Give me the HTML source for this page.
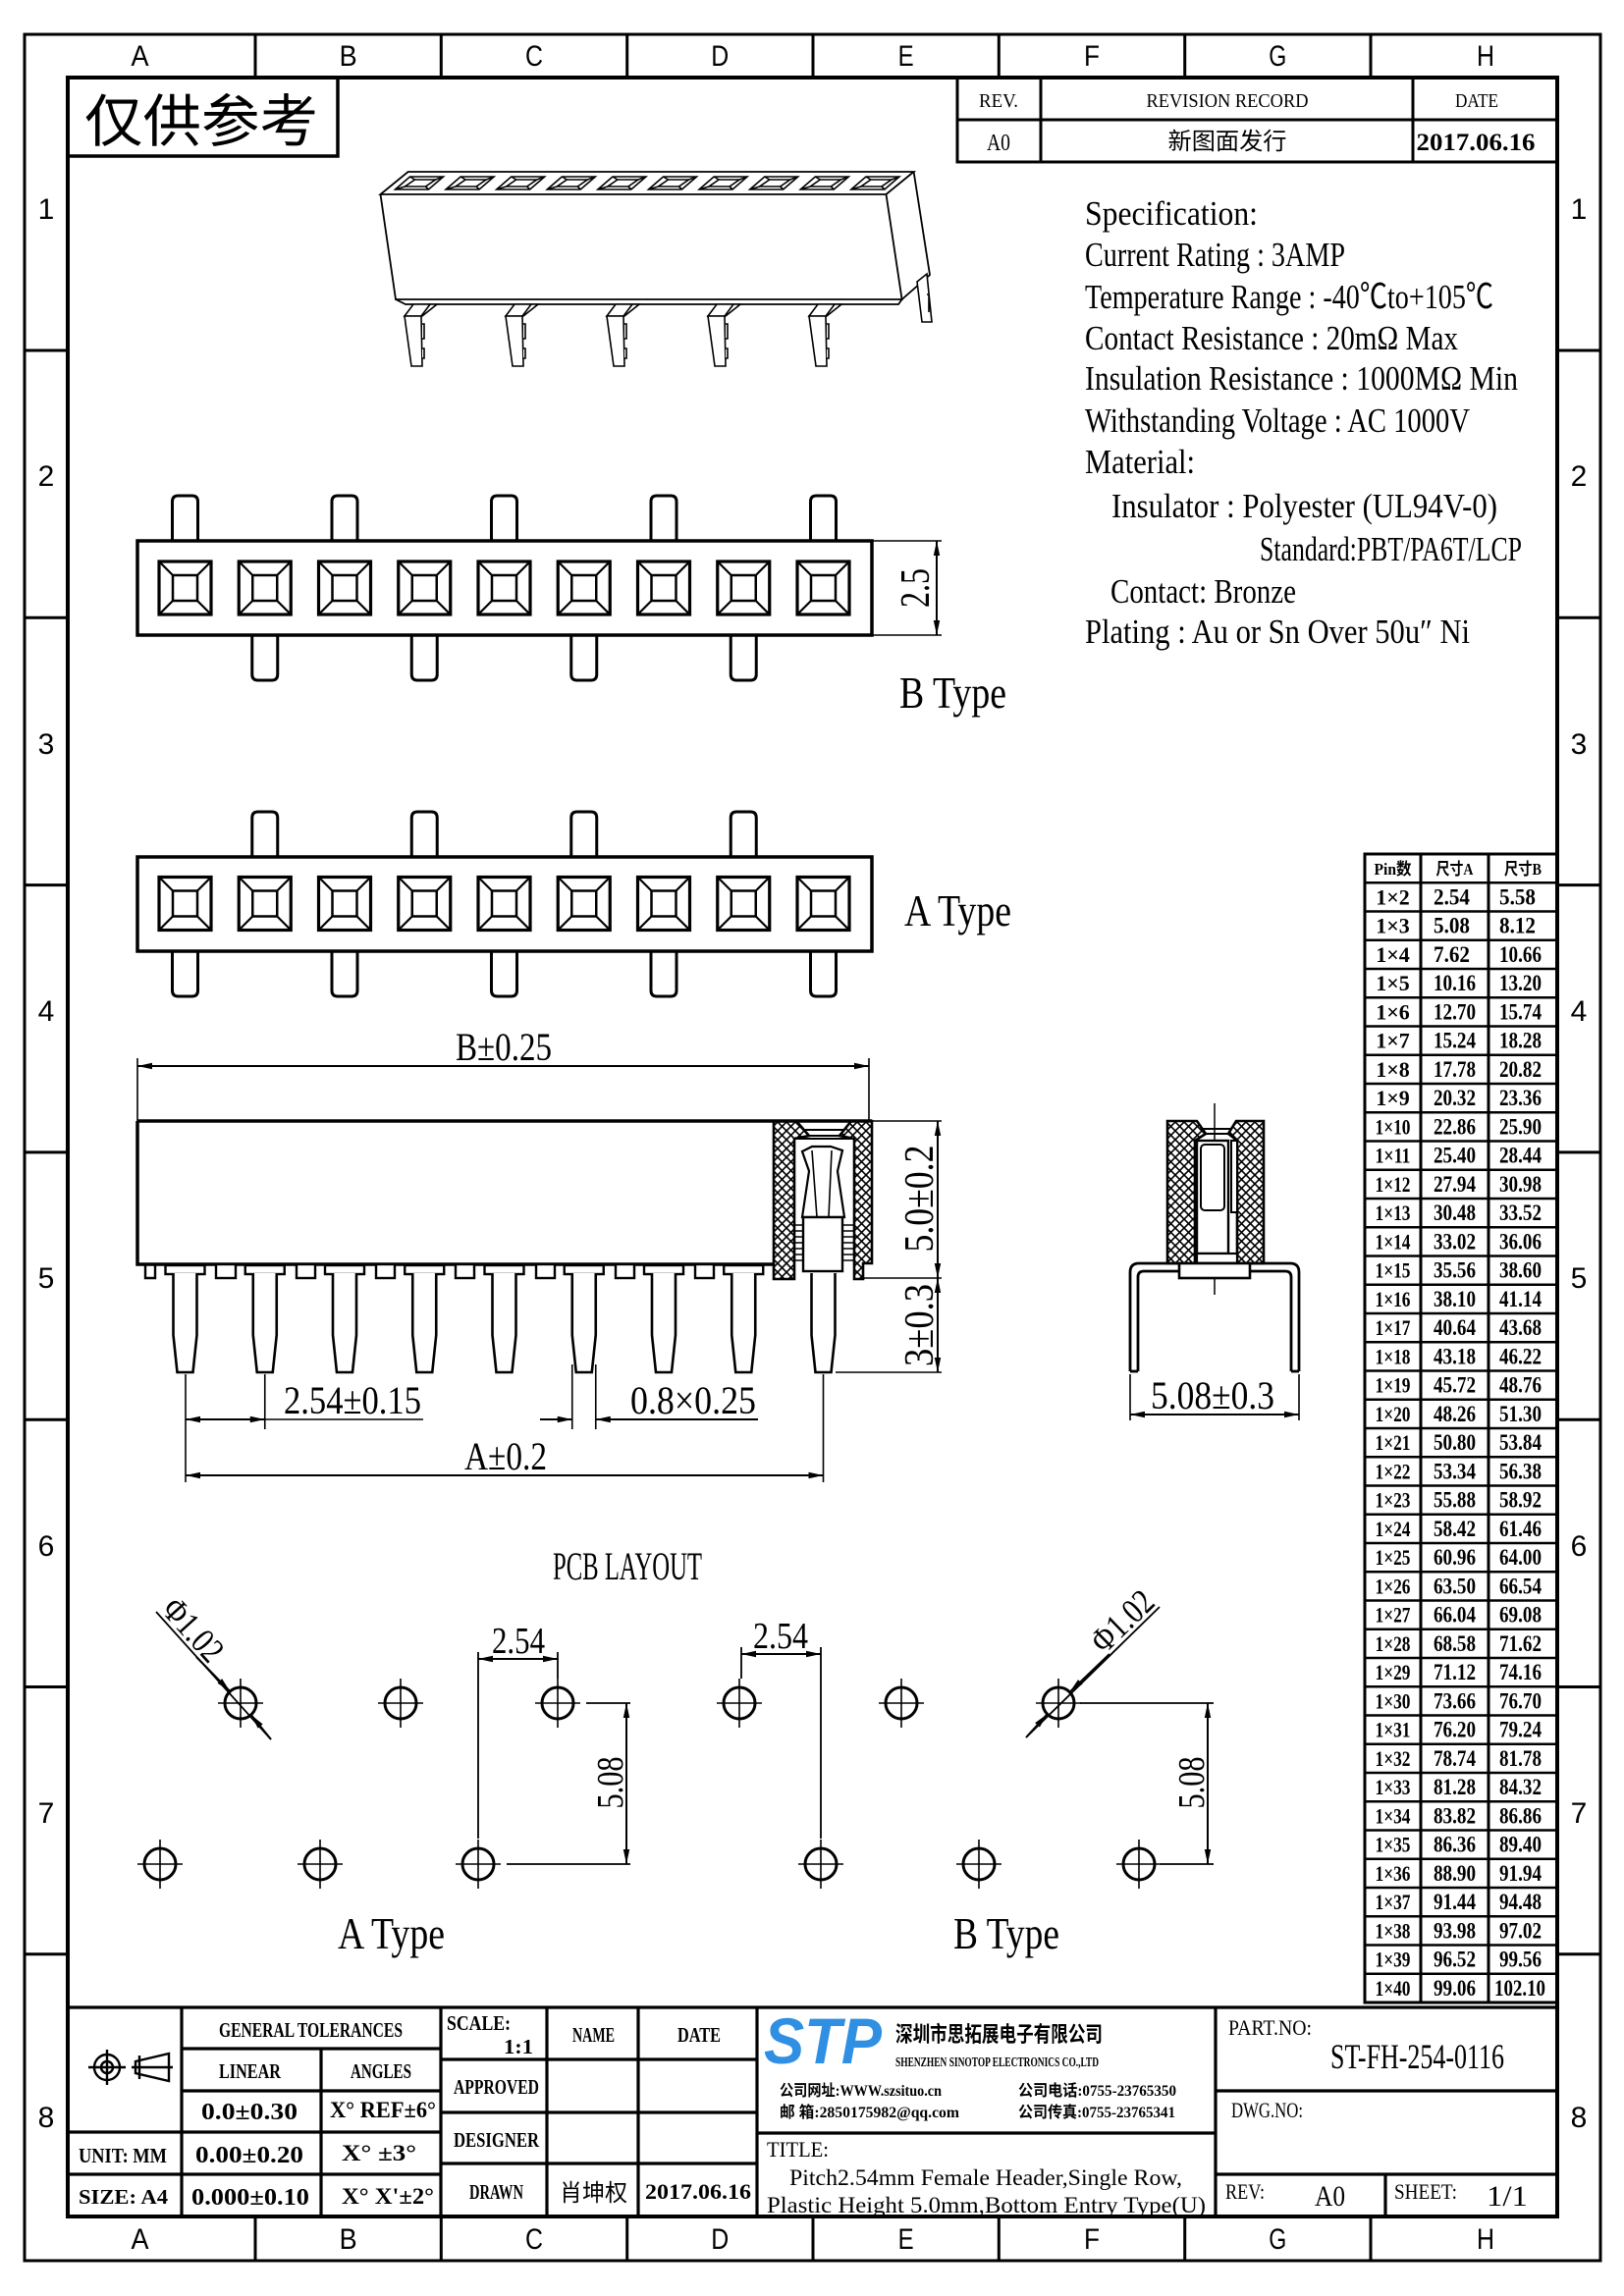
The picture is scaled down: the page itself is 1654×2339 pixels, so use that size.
<!DOCTYPE html>
<html><head><meta charset="utf-8"><style>
html,body{margin:0;padding:0;background:#fff}
svg{display:block}
.t{font-family:"Liberation Serif","Noto Sans CJK SC",serif;fill:#000}
.s{font-family:"Liberation Sans","Noto Sans CJK SC",sans-serif;fill:#000}
.c{font-family:"Liberation Serif","Noto Sans CJK SC",sans-serif;fill:#000}
</style></head><body>
<svg width="1654" height="2339" viewBox="0 0 1654 2339" xmlns="http://www.w3.org/2000/svg">
<defs>
<marker id="ar" viewBox="-16 -5 18 10" refX="0" refY="0" markerWidth="18" markerHeight="10" markerUnits="userSpaceOnUse" orient="auto-start-reverse"><path d="M0,0 L-15,-3.2 L-15,3.2 z" fill="#000"/></marker>
<pattern id="xh" width="9" height="9" patternUnits="userSpaceOnUse"><path d="M0,0 L9,9 M9,0 L0,9" stroke="#000" stroke-width="1.6"/></pattern>
<g id="sq" fill="none" stroke="#000"><rect x="-26.5" y="-27" width="53" height="54" stroke-width="3.2"/><rect x="-12.5" y="-13" width="25" height="26" stroke-width="2.5"/><path d="M-26.5,-27L-12.5,-13M26.5,-27L12.5,-13M-26.5,27L-12.5,13M26.5,27L12.5,13" stroke-width="2.2"/></g>
<path id="pu" d="M-13,0 V-40 Q-13,-46 -7,-46 H7 Q13,-46 13,-40 V0" fill="none" stroke="#000" stroke-width="3"/>
<path id="pd" d="M-13,0 V40 Q-13,46 -7,46 H7 Q13,46 13,40 V0" fill="none" stroke="#000" stroke-width="3"/>
<path id="sp" d="M-12,0 V63 L-8,101 H8 L12,63 V0" fill="#fff" stroke="#000" stroke-width="2.6"/>
<g id="hole" fill="none" stroke="#000"><circle r="16" stroke-width="3"/><path d="M-23,0H23M0,-25V25" stroke-width="1.6"/></g>
<g id="slot" fill="none" stroke="#000" stroke-width="1.6"><path d="M15,180 H49 L34,193 H0 Z"/><path d="M20,183 H41 L31,190 H10 Z"/><path d="M15,180 L20,183 M49,180 L41,183 M34,193 L31,190 M0,193 L10,190"/></g>
<g id="p3" fill="#fff" stroke="#000" stroke-width="1.6"><path d="M9,310 H33 L18,322 H0 Z"/><path d="M0,322 L7,373 H18 L17,322 Z"/><path d="M17,322 L26,310 M18,330 H20 V345 H18 M18,355 H20 V365 H18"/></g>
</defs>
<rect width="1654" height="2339" fill="#fff"/>

<!-- FRAME -->
<rect x="25" y="35" width="1605" height="2268" fill="none" stroke="#000" stroke-width="3"/>
<rect x="69" y="79" width="1517" height="2179" fill="none" stroke="#000" stroke-width="4"/>
<path d="M260,35V79M449.3,35V79M638.7,35V79M828,35V79M1017.3,35V79M1206.7,35V79M1396,35V79M260,2258V2303M449.3,2258V2303M638.7,2258V2303M828,2258V2303M1017.3,2258V2303M1206.7,2258V2303M1396,2258V2303" stroke="#000" stroke-width="3"/>
<path d="M25,357H69M25,629.3H69M25,901.6H69M25,1173.9H69M25,1446.2H69M25,1718.5H69M25,1990.8H69M1586,357H1630M1586,629.3H1630M1586,901.6H1630M1586,1173.9H1630M1586,1446.2H1630M1586,1718.5H1630M1586,1990.8H1630" stroke="#000" stroke-width="3"/>
<g class="s" font-size="30" text-anchor="middle">
<text x="142.5" y="67" textLength="18" lengthAdjust="spacingAndGlyphs">A</text>
<text x="354.6" y="67" textLength="18" lengthAdjust="spacingAndGlyphs">B</text>
<text x="544" y="67" textLength="18" lengthAdjust="spacingAndGlyphs">C</text>
<text x="733.3" y="67" textLength="18" lengthAdjust="spacingAndGlyphs">D</text>
<text x="922.6" y="67" textLength="16" lengthAdjust="spacingAndGlyphs">E</text>
<text x="1112" y="67" textLength="16" lengthAdjust="spacingAndGlyphs">F</text>
<text x="1301.3" y="67" textLength="18" lengthAdjust="spacingAndGlyphs">G</text>
<text x="1513" y="67" textLength="18" lengthAdjust="spacingAndGlyphs">H</text>
<text x="142.5" y="2291" textLength="18" lengthAdjust="spacingAndGlyphs">A</text>
<text x="354.6" y="2291" textLength="18" lengthAdjust="spacingAndGlyphs">B</text>
<text x="544" y="2291" textLength="18" lengthAdjust="spacingAndGlyphs">C</text>
<text x="733.3" y="2291" textLength="18" lengthAdjust="spacingAndGlyphs">D</text>
<text x="922.6" y="2291" textLength="16" lengthAdjust="spacingAndGlyphs">E</text>
<text x="1112" y="2291" textLength="16" lengthAdjust="spacingAndGlyphs">F</text>
<text x="1301.3" y="2291" textLength="18" lengthAdjust="spacingAndGlyphs">G</text>
<text x="1513" y="2291" textLength="18" lengthAdjust="spacingAndGlyphs">H</text>
<text x="47" y="223">1</text><text x="47" y="495">2</text><text x="47" y="768">3</text><text x="47" y="1040">4</text>
<text x="47" y="1312">5</text><text x="47" y="1585">6</text><text x="47" y="1857">7</text><text x="47" y="2167">8</text>
<text x="1608" y="223">1</text><text x="1608" y="495">2</text><text x="1608" y="768">3</text><text x="1608" y="1040">4</text>
<text x="1608" y="1312">5</text><text x="1608" y="1585">6</text><text x="1608" y="1857">7</text><text x="1608" y="2167">8</text>
</g>

<!-- 仅供参考 -->
<rect x="69" y="79" width="275" height="80" fill="none" stroke="#000" stroke-width="3.5"/>
<text class="c" x="86" y="144" font-size="58" textLength="238" lengthAdjust="spacingAndGlyphs">仅供参考</text>

<!-- REVISION TABLE -->
<g fill="none" stroke="#000" stroke-width="3"><rect x="975" y="79" width="611" height="86"/><path d="M1060,79V165M1439,79V165M975,122H1586"/></g>
<g class="t" font-size="20" text-anchor="middle">
<text x="1017" y="109" textLength="40" lengthAdjust="spacingAndGlyphs">REV.</text>
<text x="1250" y="109" textLength="165" lengthAdjust="spacingAndGlyphs">REVISION RECORD</text>
<text x="1504" y="109" textLength="44" lengthAdjust="spacingAndGlyphs">DATE</text>
<text x="1017" y="153" font-size="24" textLength="24" lengthAdjust="spacingAndGlyphs">A0</text>
<text x="1250" y="152" font-size="24" textLength="121" lengthAdjust="spacingAndGlyphs">新图面发行</text>
<text x="1503" y="153" font-size="25" font-weight="bold" textLength="121" lengthAdjust="spacingAndGlyphs">2017.06.16</text>
</g>

<!-- SPEC -->
<g class="t" font-size="35">
<text x="1105" y="229" textLength="176" lengthAdjust="spacingAndGlyphs">Specification:</text>
<text x="1105" y="271" textLength="265" lengthAdjust="spacingAndGlyphs">Current Rating : 3AMP</text>
<text x="1105" y="314" textLength="416" lengthAdjust="spacingAndGlyphs">Temperature Range : -40℃to+105℃</text>
<text x="1105" y="356" textLength="380" lengthAdjust="spacingAndGlyphs">Contact Resistance : 20mΩ Max</text>
<text x="1105" y="397" textLength="441" lengthAdjust="spacingAndGlyphs">Insulation Resistance : 1000MΩ Min</text>
<text x="1105" y="440" textLength="392" lengthAdjust="spacingAndGlyphs">Withstanding Voltage : AC 1000V</text>
<text x="1105" y="482" textLength="112" lengthAdjust="spacingAndGlyphs">Material:</text>
<text x="1132" y="527" textLength="393" lengthAdjust="spacingAndGlyphs">Insulator : Polyester (UL94V-0)</text>
<text x="1283" y="571" textLength="267" lengthAdjust="spacingAndGlyphs">Standard:PBT/PA6T/LCP</text>
<text x="1131" y="614" textLength="189" lengthAdjust="spacingAndGlyphs">Contact: Bronze</text>
<text x="1105" y="655" textLength="392" lengthAdjust="spacingAndGlyphs">Plating : Au or Sn Over 50u″ Ni</text>
</g>

<!-- 3D VIEW -->
<g fill="none" stroke="#000" stroke-width="1.8">
<path d="M415.6,175 H930.6 L902.5,198 H387.5 Z"/>
<path d="M387.5,198 L403,305 H918.6 L902.5,198"/>
<path d="M930.6,175 L947,280 L918.6,305"/>
<path d="M403,305 L413,310 H915 L918.6,305"/>
</g>
<use href="#slot" x="402.5"/><use href="#slot" x="454.1"/><use href="#slot" x="505.7"/><use href="#slot" x="557.3"/><use href="#slot" x="608.9"/>
<use href="#slot" x="660.5"/><use href="#slot" x="712.1"/><use href="#slot" x="763.7"/><use href="#slot" x="815.3"/><use href="#slot" x="866.9"/>
<use href="#p3" x="412"/><use href="#p3" x="515"/><use href="#p3" x="618"/><use href="#p3" x="721"/><use href="#p3" x="824"/>
<path d="M934,287 L944,279 L949,328 H939 Z M944,300 H946 V318" fill="#fff" stroke="#000" stroke-width="1.6"/>

<!-- B TYPE TOP VIEW -->
<rect x="140" y="551" width="748" height="96" fill="none" stroke="#000" stroke-width="3.5"/>
<use href="#sq" x="188.5" y="599"/><use href="#sq" x="269.75" y="599"/><use href="#sq" x="351" y="599"/><use href="#sq" x="432.25" y="599"/><use href="#sq" x="513.5" y="599"/><use href="#sq" x="594.75" y="599"/><use href="#sq" x="676" y="599"/><use href="#sq" x="757.25" y="599"/><use href="#sq" x="838.5" y="599"/>
<use href="#pu" x="188.5" y="551"/><use href="#pu" x="351" y="551"/><use href="#pu" x="513.5" y="551"/><use href="#pu" x="676" y="551"/><use href="#pu" x="838.5" y="551"/>
<use href="#pd" x="269.75" y="647"/><use href="#pd" x="432.25" y="647"/><use href="#pd" x="594.75" y="647"/><use href="#pd" x="757.25" y="647"/>
<path d="M888,551H959M888,647H959" stroke="#000" stroke-width="1.6"/>
<line x1="954" y1="551" x2="954" y2="647" stroke="#000" stroke-width="2" marker-start="url(#ar)" marker-end="url(#ar)"/>
<text class="t" transform="translate(946,599) rotate(-90)" font-size="42" text-anchor="middle" textLength="40" lengthAdjust="spacingAndGlyphs">2.5</text>
<text class="t" x="916" y="721" font-size="46" textLength="109" lengthAdjust="spacingAndGlyphs">B Type</text>

<!-- A TYPE TOP VIEW -->
<rect x="140" y="873" width="748" height="96" fill="none" stroke="#000" stroke-width="3.5"/>
<use href="#sq" x="188.5" y="920.5"/><use href="#sq" x="269.75" y="920.5"/><use href="#sq" x="351" y="920.5"/><use href="#sq" x="432.25" y="920.5"/><use href="#sq" x="513.5" y="920.5"/><use href="#sq" x="594.75" y="920.5"/><use href="#sq" x="676" y="920.5"/><use href="#sq" x="757.25" y="920.5"/><use href="#sq" x="838.5" y="920.5"/>
<use href="#pu" x="269.75" y="873"/><use href="#pu" x="432.25" y="873"/><use href="#pu" x="594.75" y="873"/><use href="#pu" x="757.25" y="873"/>
<use href="#pd" x="188.5" y="969"/><use href="#pd" x="351" y="969"/><use href="#pd" x="513.5" y="969"/><use href="#pd" x="676" y="969"/><use href="#pd" x="838.5" y="969"/>
<text class="t" x="921" y="943" font-size="46" textLength="109" lengthAdjust="spacingAndGlyphs">A Type</text>

<!-- SIDE VIEW -->
<g fill="none" stroke="#000">
<path d="M140,1142 H888 M140,1142 V1288 H788" stroke-width="3.5"/>
<path d="M788,1142 H811 L824,1157 L809,1160 V1303 H788 Z" fill="url(#xh)" stroke-width="2.6"/>
<path d="M867,1142 H888 V1287 H879 V1303 H870 V1160 L855,1157 Z" fill="url(#xh)" stroke-width="2.6"/>
<path d="M824,1157 H855 M818,1151 H861 M809,1160 H870" stroke-width="2"/>
<path d="M817,1173 L827,1168 H846 L858,1172 L853,1193 L860,1240 H817 L824,1193 Z" fill="#fff" stroke-width="2.2"/>
<path d="M827,1172 L832,1240 M847,1172 L844,1240" stroke-width="1.6"/>
<rect x="818" y="1240" width="40" height="55" fill="#fff" stroke-width="2.4"/>
<path d="M809,1248H818M809,1254H818M809,1260H818M809,1266H818M809,1272H818M809,1278H818M809,1284H818M858,1248H870M858,1254H870M858,1260H870M858,1266H870M858,1272H870M858,1278H870M858,1284H870" stroke-width="1.6"/>
<path d="M148,1288 V1302 H158 V1288" stroke-width="2.4"/>
</g>
<g fill="#fff" stroke="#000" stroke-width="2.4">
<rect x="220" y="1288" width="20" height="14"/><rect x="302" y="1288" width="19" height="14"/><rect x="383" y="1288" width="19" height="14"/><rect x="464" y="1288" width="19" height="14"/><rect x="546" y="1288" width="19" height="14"/><rect x="627" y="1288" width="19" height="14"/><rect x="708" y="1288" width="19" height="14"/>
<rect x="168.5" y="1289" width="40" height="9"/><rect x="249.75" y="1289" width="40" height="9"/><rect x="331" y="1289" width="40" height="9"/><rect x="412.25" y="1289" width="40" height="9"/><rect x="493.5" y="1289" width="40" height="9"/><rect x="574.75" y="1289" width="40" height="9"/><rect x="656" y="1289" width="40" height="9"/><rect x="737.25" y="1289" width="40" height="9"/>
</g>
<use href="#sp" x="188.5" y="1297"/><use href="#sp" x="269.75" y="1297"/><use href="#sp" x="351" y="1297"/><use href="#sp" x="432.25" y="1297"/><use href="#sp" x="513.5" y="1297"/><use href="#sp" x="594.75" y="1297"/><use href="#sp" x="676" y="1297"/><use href="#sp" x="757.25" y="1297"/><use href="#sp" x="838.5" y="1297"/>

<!-- side view dims -->
<g stroke="#000" stroke-width="1.6" fill="none">
<path d="M140,1078V1142M885,1078V1142"/>
<path d="M888,1142H959M880,1302H959M851,1398H959"/>
<path d="M189,1400V1456M269.75,1400V1456M582.75,1390V1456M606.75,1390V1456M189,1456V1510M838.5,1400V1510"/>
<path d="M269.75,1446H431"/>
</g>
<g stroke="#000" stroke-width="2" fill="none">
<line x1="140" y1="1086" x2="885" y2="1086" marker-start="url(#ar)" marker-end="url(#ar)"/>
<line x1="955" y1="1142" x2="955" y2="1302" marker-start="url(#ar)" marker-end="url(#ar)"/>
<line x1="955" y1="1302" x2="955" y2="1398" marker-start="url(#ar)" marker-end="url(#ar)"/>
<line x1="189" y1="1446" x2="269.75" y2="1446" marker-start="url(#ar)" marker-end="url(#ar)"/>
<line x1="550" y1="1446" x2="582.75" y2="1446" marker-end="url(#ar)"/>
<line x1="772" y1="1446" x2="606.75" y2="1446" marker-end="url(#ar)"/>
<line x1="189" y1="1503" x2="838.5" y2="1503" marker-start="url(#ar)" marker-end="url(#ar)"/>
</g>
<g class="t" font-size="40">
<text x="464" y="1080" textLength="98" lengthAdjust="spacingAndGlyphs">B±0.25</text>
<text x="289" y="1440" textLength="140" lengthAdjust="spacingAndGlyphs">2.54±0.15</text>
<text x="642" y="1440" textLength="128" lengthAdjust="spacingAndGlyphs">0.8×0.25</text>
<text x="473" y="1497" textLength="84" lengthAdjust="spacingAndGlyphs">A±0.2</text>
<text transform="translate(950,1221) rotate(-90)" text-anchor="middle" font-size="42" textLength="109" lengthAdjust="spacingAndGlyphs">5.0±0.2</text>
<text transform="translate(950,1350) rotate(-90)" text-anchor="middle" font-size="42" textLength="84" lengthAdjust="spacingAndGlyphs">3±0.3</text>
</g>

<!-- CROSS SECTION -->
<g fill="none" stroke="#000">
<line x1="1237" y1="1124" x2="1237" y2="1319" stroke-width="1.5"/>
<path d="M1189,1142 H1219 L1228,1155 L1217,1162 V1287 H1189 Z" fill="url(#xh)" stroke-width="2.6"/>
<path d="M1259,1142 H1287 V1287 H1260 V1162 L1251,1155 Z" fill="url(#xh)" stroke-width="2.6"/>
<path d="M1228,1155 H1251 M1223,1150 H1255" stroke-width="2"/>
<rect x="1219" y="1162" width="32" height="115" fill="#fff" stroke-width="2.4"/>
<rect x="1223" y="1166" width="24" height="67" rx="4" stroke-width="2"/>
<rect x="1254" y="1162" width="6" height="73" fill="#fff" stroke-width="2"/>
<rect x="1219" y="1277" width="41" height="10" fill="#fff" stroke-width="2.2"/>
<!-- leads -->
<line x1="1151" y1="1296" x2="1151" y2="1397" stroke-width="2.8"/>
<line x1="1159" y1="1301" x2="1159" y2="1397" stroke-width="2.8"/>
<line x1="1151" y1="1397" x2="1159" y2="1397" stroke-width="2.8"/>
<line x1="1323" y1="1296" x2="1323" y2="1397" stroke-width="2.8"/>
<line x1="1315" y1="1301" x2="1315" y2="1397" stroke-width="2.8"/>
<line x1="1315" y1="1397" x2="1323" y2="1397" stroke-width="2.8"/>
<path d="M1151,1296 Q1151,1287 1160,1287 L1314,1287 Q1323,1287 1323,1296" stroke-width="2.8"/>
<path d="M1159,1301 Q1159,1295 1165,1295 L1201,1295" stroke-width="2.8"/>
<path d="M1273,1295 L1309,1295 Q1315,1295 1315,1301" stroke-width="2.8"/>
<rect x="1201" y="1287" width="72" height="15" fill="#fff" stroke-width="2.6"/>
<line x1="1151" y1="1400" x2="1151" y2="1447" stroke-width="1.6"/>
<line x1="1323" y1="1400" x2="1323" y2="1447" stroke-width="1.6"/>
<line x1="1151" y1="1441" x2="1323" y2="1441" stroke-width="2" marker-start="url(#ar)" marker-end="url(#ar)"/>
</g>
<text class="t" x="1172" y="1435" font-size="40" textLength="126" lengthAdjust="spacingAndGlyphs">5.08±0.3</text>

<!-- PCB LAYOUT -->
<text class="t" x="563" y="1609" font-size="40" textLength="152" lengthAdjust="spacingAndGlyphs">PCB LAYOUT</text>
<use href="#hole" x="245" y="1735"/><use href="#hole" x="408" y="1735"/><use href="#hole" x="568" y="1735"/>
<use href="#hole" x="163" y="1899"/><use href="#hole" x="326" y="1899"/><use href="#hole" x="487" y="1899"/>
<use href="#hole" x="753" y="1735"/><use href="#hole" x="918" y="1735"/><use href="#hole" x="1078" y="1735"/>
<use href="#hole" x="836" y="1899"/><use href="#hole" x="997" y="1899"/><use href="#hole" x="1160" y="1899"/>
<g stroke="#000" fill="none" stroke-width="1.8">
<path d="M487,1683V1873M568,1683V1710M597,1735H642M516,1899H642"/>
<path d="M755,1678V1710M836,1678V1873M1100,1735H1236M1182,1899H1236"/>
<path d="M159,1642L276,1772M1045,1770L1181,1637"/>
</g>
<g stroke="#000" fill="none" stroke-width="2">
<line x1="487" y1="1690" x2="568" y2="1690" marker-start="url(#ar)" marker-end="url(#ar)"/>
<line x1="638" y1="1735" x2="638" y2="1899" marker-start="url(#ar)" marker-end="url(#ar)"/>
<line x1="755" y1="1685" x2="836" y2="1685" marker-start="url(#ar)" marker-end="url(#ar)"/>
<line x1="1230" y1="1735" x2="1230" y2="1899" marker-start="url(#ar)" marker-end="url(#ar)"/>
<line x1="200" y1="1688" x2="234.3" y2="1723.1" marker-end="url(#ar)"/>
<line x1="276" y1="1772" x2="255.7" y2="1746.9" marker-end="url(#ar)"/>
<line x1="1045" y1="1770" x2="1066.6" y2="1746.2" marker-end="url(#ar)"/>
<line x1="1130" y1="1685" x2="1089.4" y2="1723.8" marker-end="url(#ar)"/>
</g>
<g class="t" font-size="38">
<text x="501" y="1684" textLength="54" lengthAdjust="spacingAndGlyphs">2.54</text>
<text x="767" y="1679" textLength="56" lengthAdjust="spacingAndGlyphs">2.54</text>
<text transform="translate(634,1816) rotate(-90)" text-anchor="middle" textLength="53" lengthAdjust="spacingAndGlyphs">5.08</text>
<text transform="translate(1226,1816) rotate(-90)" text-anchor="middle" textLength="53" lengthAdjust="spacingAndGlyphs">5.08</text>
<text transform="translate(185,1671) rotate(48)" y="-4" text-anchor="middle" font-size="36" textLength="74" lengthAdjust="spacingAndGlyphs">Φ1.02</text>
<text transform="translate(1154,1663) rotate(-44)" y="-4" text-anchor="middle" font-size="36" textLength="74" lengthAdjust="spacingAndGlyphs">Φ1.02</text>
<text x="344" y="1985" font-size="46" textLength="109" lengthAdjust="spacingAndGlyphs">A Type</text>
<text x="971" y="1985" font-size="46" textLength="108" lengthAdjust="spacingAndGlyphs">B Type</text>
</g>

<!-- TABLE -->
<g stroke="#000" fill="none">
<rect x="1390" y="870" width="196" height="1170" stroke-width="3"/>
<path d="M1447,870V2040M1516,870V2040" stroke-width="3"/>
<path d="M1390,899.25H1586M1390,928.5H1586M1390,957.75H1586M1390,987H1586M1390,1016.25H1586M1390,1045.5H1586M1390,1074.75H1586M1390,1104H1586M1390,1133.25H1586M1390,1162.5H1586M1390,1191.75H1586M1390,1221H1586M1390,1250.25H1586M1390,1279.5H1586M1390,1308.75H1586M1390,1338H1586M1390,1367.25H1586M1390,1396.5H1586M1390,1425.75H1586M1390,1455H1586M1390,1484.25H1586M1390,1513.5H1586M1390,1542.75H1586M1390,1572H1586M1390,1601.25H1586M1390,1630.5H1586M1390,1659.75H1586M1390,1689H1586M1390,1718.25H1586M1390,1747.5H1586M1390,1776.75H1586M1390,1806H1586M1390,1835.25H1586M1390,1864.5H1586M1390,1893.75H1586M1390,1923H1586M1390,1952.25H1586M1390,1981.5H1586M1390,2010.75H1586" stroke-width="2.4"/>
</g>
<g class="t" font-size="17" font-weight="bold" text-anchor="middle">
<text x="1418.5" y="891" textLength="38" lengthAdjust="spacingAndGlyphs">Pin数</text>
<text x="1481.5" y="891" textLength="38" lengthAdjust="spacingAndGlyphs">尺寸A</text>
<text x="1551" y="891" textLength="38" lengthAdjust="spacingAndGlyphs">尺寸B</text>
</g>
<g class="t" font-size="22" font-weight="bold" text-anchor="middle">
<text x="1418.5" y="921.3">1×2</text><text x="1418.5" y="950.5">1×3</text><text x="1418.5" y="979.8">1×4</text><text x="1418.5" y="1009">1×5</text><text x="1418.5" y="1038.3">1×6</text><text x="1418.5" y="1067.5">1×7</text><text x="1418.5" y="1096.8">1×8</text><text x="1418.5" y="1126">1×9</text>
</g>
<g class="t" font-size="22" font-weight="bold" text-anchor="middle">
<text x="1418.5" y="1155.3" textLength="36" lengthAdjust="spacingAndGlyphs">1×10</text><text x="1418.5" y="1184.5" textLength="36" lengthAdjust="spacingAndGlyphs">1×11</text><text x="1418.5" y="1213.8" textLength="36" lengthAdjust="spacingAndGlyphs">1×12</text><text x="1418.5" y="1243" textLength="36" lengthAdjust="spacingAndGlyphs">1×13</text><text x="1418.5" y="1272.3" textLength="36" lengthAdjust="spacingAndGlyphs">1×14</text><text x="1418.5" y="1301.5" textLength="36" lengthAdjust="spacingAndGlyphs">1×15</text><text x="1418.5" y="1330.8" textLength="36" lengthAdjust="spacingAndGlyphs">1×16</text><text x="1418.5" y="1360" textLength="36" lengthAdjust="spacingAndGlyphs">1×17</text><text x="1418.5" y="1389.3" textLength="36" lengthAdjust="spacingAndGlyphs">1×18</text><text x="1418.5" y="1418.5" textLength="36" lengthAdjust="spacingAndGlyphs">1×19</text>
<text x="1418.5" y="1447.8" textLength="36" lengthAdjust="spacingAndGlyphs">1×20</text><text x="1418.5" y="1477" textLength="36" lengthAdjust="spacingAndGlyphs">1×21</text><text x="1418.5" y="1506.3" textLength="36" lengthAdjust="spacingAndGlyphs">1×22</text><text x="1418.5" y="1535.5" textLength="36" lengthAdjust="spacingAndGlyphs">1×23</text><text x="1418.5" y="1564.8" textLength="36" lengthAdjust="spacingAndGlyphs">1×24</text><text x="1418.5" y="1594" textLength="36" lengthAdjust="spacingAndGlyphs">1×25</text><text x="1418.5" y="1623.3" textLength="36" lengthAdjust="spacingAndGlyphs">1×26</text><text x="1418.5" y="1652.5" textLength="36" lengthAdjust="spacingAndGlyphs">1×27</text><text x="1418.5" y="1681.8" textLength="36" lengthAdjust="spacingAndGlyphs">1×28</text><text x="1418.5" y="1711" textLength="36" lengthAdjust="spacingAndGlyphs">1×29</text>
<text x="1418.5" y="1740.3" textLength="36" lengthAdjust="spacingAndGlyphs">1×30</text><text x="1418.5" y="1769.5" textLength="36" lengthAdjust="spacingAndGlyphs">1×31</text><text x="1418.5" y="1798.8" textLength="36" lengthAdjust="spacingAndGlyphs">1×32</text><text x="1418.5" y="1828" textLength="36" lengthAdjust="spacingAndGlyphs">1×33</text><text x="1418.5" y="1857.3" textLength="36" lengthAdjust="spacingAndGlyphs">1×34</text><text x="1418.5" y="1886.5" textLength="36" lengthAdjust="spacingAndGlyphs">1×35</text><text x="1418.5" y="1915.8" textLength="36" lengthAdjust="spacingAndGlyphs">1×36</text><text x="1418.5" y="1945" textLength="36" lengthAdjust="spacingAndGlyphs">1×37</text><text x="1418.5" y="1974.3" textLength="36" lengthAdjust="spacingAndGlyphs">1×38</text><text x="1418.5" y="2003.5" textLength="36" lengthAdjust="spacingAndGlyphs">1×39</text><text x="1418.5" y="2032.8" textLength="36" lengthAdjust="spacingAndGlyphs">1×40</text>
</g>
<g class="t" font-size="23" font-weight="bold">
<text x="1460" y="921.3" textLength="37" lengthAdjust="spacingAndGlyphs">2.54</text><text x="1527" y="921.3" textLength="37" lengthAdjust="spacingAndGlyphs">5.58</text>
<text x="1460" y="950.5" textLength="37" lengthAdjust="spacingAndGlyphs">5.08</text><text x="1527" y="950.5" textLength="37" lengthAdjust="spacingAndGlyphs">8.12</text>
<text x="1460" y="979.8" textLength="37" lengthAdjust="spacingAndGlyphs">7.62</text><text x="1527" y="979.8" textLength="43" lengthAdjust="spacingAndGlyphs">10.66</text>
<text x="1460" y="1009" textLength="43" lengthAdjust="spacingAndGlyphs">10.16</text><text x="1527" y="1009" textLength="43" lengthAdjust="spacingAndGlyphs">13.20</text>
<text x="1460" y="1038.3" textLength="43" lengthAdjust="spacingAndGlyphs">12.70</text><text x="1527" y="1038.3" textLength="43" lengthAdjust="spacingAndGlyphs">15.74</text>
<text x="1460" y="1067.5" textLength="43" lengthAdjust="spacingAndGlyphs">15.24</text><text x="1527" y="1067.5" textLength="43" lengthAdjust="spacingAndGlyphs">18.28</text>
<text x="1460" y="1096.8" textLength="43" lengthAdjust="spacingAndGlyphs">17.78</text><text x="1527" y="1096.8" textLength="43" lengthAdjust="spacingAndGlyphs">20.82</text>
<text x="1460" y="1126" textLength="43" lengthAdjust="spacingAndGlyphs">20.32</text><text x="1527" y="1126" textLength="43" lengthAdjust="spacingAndGlyphs">23.36</text>
<text x="1460" y="1155.3" textLength="43" lengthAdjust="spacingAndGlyphs">22.86</text><text x="1527" y="1155.3" textLength="43" lengthAdjust="spacingAndGlyphs">25.90</text>
<text x="1460" y="1184.5" textLength="43" lengthAdjust="spacingAndGlyphs">25.40</text><text x="1527" y="1184.5" textLength="43" lengthAdjust="spacingAndGlyphs">28.44</text>
<text x="1460" y="1213.8" textLength="43" lengthAdjust="spacingAndGlyphs">27.94</text><text x="1527" y="1213.8" textLength="43" lengthAdjust="spacingAndGlyphs">30.98</text>
<text x="1460" y="1243" textLength="43" lengthAdjust="spacingAndGlyphs">30.48</text><text x="1527" y="1243" textLength="43" lengthAdjust="spacingAndGlyphs">33.52</text>
<text x="1460" y="1272.3" textLength="43" lengthAdjust="spacingAndGlyphs">33.02</text><text x="1527" y="1272.3" textLength="43" lengthAdjust="spacingAndGlyphs">36.06</text>
<text x="1460" y="1301.5" textLength="43" lengthAdjust="spacingAndGlyphs">35.56</text><text x="1527" y="1301.5" textLength="43" lengthAdjust="spacingAndGlyphs">38.60</text>
<text x="1460" y="1330.8" textLength="43" lengthAdjust="spacingAndGlyphs">38.10</text><text x="1527" y="1330.8" textLength="43" lengthAdjust="spacingAndGlyphs">41.14</text>
<text x="1460" y="1360" textLength="43" lengthAdjust="spacingAndGlyphs">40.64</text><text x="1527" y="1360" textLength="43" lengthAdjust="spacingAndGlyphs">43.68</text>
<text x="1460" y="1389.3" textLength="43" lengthAdjust="spacingAndGlyphs">43.18</text><text x="1527" y="1389.3" textLength="43" lengthAdjust="spacingAndGlyphs">46.22</text>
<text x="1460" y="1418.5" textLength="43" lengthAdjust="spacingAndGlyphs">45.72</text><text x="1527" y="1418.5" textLength="43" lengthAdjust="spacingAndGlyphs">48.76</text>
<text x="1460" y="1447.8" textLength="43" lengthAdjust="spacingAndGlyphs">48.26</text><text x="1527" y="1447.8" textLength="43" lengthAdjust="spacingAndGlyphs">51.30</text>
<text x="1460" y="1477" textLength="43" lengthAdjust="spacingAndGlyphs">50.80</text><text x="1527" y="1477" textLength="43" lengthAdjust="spacingAndGlyphs">53.84</text>
<text x="1460" y="1506.3" textLength="43" lengthAdjust="spacingAndGlyphs">53.34</text><text x="1527" y="1506.3" textLength="43" lengthAdjust="spacingAndGlyphs">56.38</text>
<text x="1460" y="1535.5" textLength="43" lengthAdjust="spacingAndGlyphs">55.88</text><text x="1527" y="1535.5" textLength="43" lengthAdjust="spacingAndGlyphs">58.92</text>
<text x="1460" y="1564.8" textLength="43" lengthAdjust="spacingAndGlyphs">58.42</text><text x="1527" y="1564.8" textLength="43" lengthAdjust="spacingAndGlyphs">61.46</text>
<text x="1460" y="1594" textLength="43" lengthAdjust="spacingAndGlyphs">60.96</text><text x="1527" y="1594" textLength="43" lengthAdjust="spacingAndGlyphs">64.00</text>
<text x="1460" y="1623.3" textLength="43" lengthAdjust="spacingAndGlyphs">63.50</text><text x="1527" y="1623.3" textLength="43" lengthAdjust="spacingAndGlyphs">66.54</text>
<text x="1460" y="1652.5" textLength="43" lengthAdjust="spacingAndGlyphs">66.04</text><text x="1527" y="1652.5" textLength="43" lengthAdjust="spacingAndGlyphs">69.08</text>
<text x="1460" y="1681.8" textLength="43" lengthAdjust="spacingAndGlyphs">68.58</text><text x="1527" y="1681.8" textLength="43" lengthAdjust="spacingAndGlyphs">71.62</text>
<text x="1460" y="1711" textLength="43" lengthAdjust="spacingAndGlyphs">71.12</text><text x="1527" y="1711" textLength="43" lengthAdjust="spacingAndGlyphs">74.16</text>
<text x="1460" y="1740.3" textLength="43" lengthAdjust="spacingAndGlyphs">73.66</text><text x="1527" y="1740.3" textLength="43" lengthAdjust="spacingAndGlyphs">76.70</text>
<text x="1460" y="1769.5" textLength="43" lengthAdjust="spacingAndGlyphs">76.20</text><text x="1527" y="1769.5" textLength="43" lengthAdjust="spacingAndGlyphs">79.24</text>
<text x="1460" y="1798.8" textLength="43" lengthAdjust="spacingAndGlyphs">78.74</text><text x="1527" y="1798.8" textLength="43" lengthAdjust="spacingAndGlyphs">81.78</text>
<text x="1460" y="1828" textLength="43" lengthAdjust="spacingAndGlyphs">81.28</text><text x="1527" y="1828" textLength="43" lengthAdjust="spacingAndGlyphs">84.32</text>
<text x="1460" y="1857.3" textLength="43" lengthAdjust="spacingAndGlyphs">83.82</text><text x="1527" y="1857.3" textLength="43" lengthAdjust="spacingAndGlyphs">86.86</text>
<text x="1460" y="1886.5" textLength="43" lengthAdjust="spacingAndGlyphs">86.36</text><text x="1527" y="1886.5" textLength="43" lengthAdjust="spacingAndGlyphs">89.40</text>
<text x="1460" y="1915.8" textLength="43" lengthAdjust="spacingAndGlyphs">88.90</text><text x="1527" y="1915.8" textLength="43" lengthAdjust="spacingAndGlyphs">91.94</text>
<text x="1460" y="1945" textLength="43" lengthAdjust="spacingAndGlyphs">91.44</text><text x="1527" y="1945" textLength="43" lengthAdjust="spacingAndGlyphs">94.48</text>
<text x="1460" y="1974.3" textLength="43" lengthAdjust="spacingAndGlyphs">93.98</text><text x="1527" y="1974.3" textLength="43" lengthAdjust="spacingAndGlyphs">97.02</text>
<text x="1460" y="2003.5" textLength="43" lengthAdjust="spacingAndGlyphs">96.52</text><text x="1527" y="2003.5" textLength="43" lengthAdjust="spacingAndGlyphs">99.56</text>
<text x="1460" y="2032.8" textLength="43" lengthAdjust="spacingAndGlyphs">99.06</text><text x="1522" y="2032.8" textLength="52" lengthAdjust="spacingAndGlyphs">102.10</text>
</g>

<!-- TITLE BLOCK -->
<g stroke="#000" fill="none" stroke-width="3.2">
<path d="M69,2045H1586"/>
<path d="M185,2045V2258M327,2087V2258M449,2045V2258M557,2045V2258M650,2045V2258M771,2045V2258M1238,2045V2258M1411,2215V2258"/>
<path d="M185,2087H449M185,2130H449M69,2172H449M69,2215H449"/>
<path d="M449,2098H771M449,2152H771M449,2204H771"/>
<path d="M771,2173H1238M1238,2130H1586M1238,2215H1586"/>
</g>
<!-- tolerance symbol -->
<g stroke="#000" fill="none" stroke-width="2.4">
<circle cx="109" cy="2106" r="13"/><circle cx="109" cy="2106" r="6"/><path d="M90,2106H128M109,2088V2124"/>
<path d="M138,2100 L172,2092 V2120 L138,2112 Z M134,2106H176 M142,2094V2118"/>
</g>
<g class="t" font-size="21" font-weight="bold">
<text x="223" y="2075" textLength="187" lengthAdjust="spacingAndGlyphs">GENERAL TOLERANCES</text>
<text x="223" y="2117" textLength="63" lengthAdjust="spacingAndGlyphs">LINEAR</text>
<text x="357" y="2117" textLength="62" lengthAdjust="spacingAndGlyphs">ANGLES</text>
<text x="205" y="2159" font-size="24" textLength="98" lengthAdjust="spacingAndGlyphs">0.0±0.30</text>
<text x="336" y="2157" font-size="23" textLength="108" lengthAdjust="spacingAndGlyphs">X° REF±6°</text>
<text x="80" y="2203" textLength="90" lengthAdjust="spacingAndGlyphs">UNIT: MM</text>
<text x="199" y="2203" font-size="24" textLength="110" lengthAdjust="spacingAndGlyphs">0.00±0.20</text>
<text x="348" y="2201" font-size="23" textLength="76" lengthAdjust="spacingAndGlyphs">X° ±3°</text>
<text x="80" y="2245" textLength="91" lengthAdjust="spacingAndGlyphs">SIZE: A4</text>
<text x="195" y="2246" font-size="24" textLength="120" lengthAdjust="spacingAndGlyphs">0.000±0.10</text>
<text x="348" y="2245" font-size="23" textLength="94" lengthAdjust="spacingAndGlyphs">X° X'±2°</text>
<text x="455" y="2068" textLength="65" lengthAdjust="spacingAndGlyphs">SCALE:</text>
<text x="513" y="2092" textLength="30" lengthAdjust="spacingAndGlyphs">1:1</text>
<text x="583" y="2080" textLength="43" lengthAdjust="spacingAndGlyphs">NAME</text>
<text x="690" y="2080" textLength="44" lengthAdjust="spacingAndGlyphs">DATE</text>
<text x="462" y="2133" textLength="87" lengthAdjust="spacingAndGlyphs">APPROVED</text>
<text x="462" y="2187" textLength="87" lengthAdjust="spacingAndGlyphs">DESIGNER</text>
<text x="478" y="2240" textLength="55" lengthAdjust="spacingAndGlyphs">DRAWN</text>
<text x="570" y="2242" font-size="24" font-weight="normal" textLength="69" lengthAdjust="spacingAndGlyphs">肖坤权</text>
<text x="657" y="2240" font-size="22" textLength="108" lengthAdjust="spacingAndGlyphs">2017.06.16</text>
</g>
<!-- logo & company -->
<text x="778" y="2102" font-family="Liberation Sans, sans-serif" font-size="66" font-weight="bold" font-style="italic" fill="#2f8fe3" textLength="120" lengthAdjust="spacingAndGlyphs">STP</text>
<g class="t" font-weight="bold">
<text x="912" y="2080" font-size="22" textLength="211" lengthAdjust="spacingAndGlyphs">深圳市思拓展电子有限公司</text>
<text x="912" y="2105" font-size="14" textLength="207" lengthAdjust="spacingAndGlyphs">SHENZHEN SINOTOP ELECTRONICS CO.,LTD</text>
<text x="794" y="2135" font-size="16" textLength="165" lengthAdjust="spacingAndGlyphs">公司网址:WWW.szsituo.cn</text>
<text x="1037" y="2135" font-size="16" textLength="161" lengthAdjust="spacingAndGlyphs">公司电话:0755-23765350</text>
<text x="794" y="2157" font-size="16" textLength="183" lengthAdjust="spacingAndGlyphs">邮    箱:2850175982@qq.com</text>
<text x="1037" y="2157" font-size="16" textLength="160" lengthAdjust="spacingAndGlyphs">公司传真:0755-23765341</text>
</g>
<g class="t">
<text x="781" y="2197" font-size="22" textLength="63" lengthAdjust="spacingAndGlyphs">TITLE:</text>
<text x="804" y="2226" font-size="23" textLength="400" lengthAdjust="spacingAndGlyphs">Pitch2.54mm Female Header,Single Row,</text>
<text x="781" y="2254" font-size="23" textLength="447" lengthAdjust="spacingAndGlyphs">Plastic Height 5.0mm,Bottom Entry Type(U)</text>
<text x="1251" y="2073" font-size="22" textLength="85" lengthAdjust="spacingAndGlyphs">PART.NO:</text>
<text x="1355" y="2107" font-size="36" textLength="177" lengthAdjust="spacingAndGlyphs">ST-FH-254-0116</text>
<text x="1254" y="2157" font-size="22" textLength="73" lengthAdjust="spacingAndGlyphs">DWG.NO:</text>
<text x="1248" y="2240" font-size="22" textLength="40" lengthAdjust="spacingAndGlyphs">REV:</text>
<text x="1339" y="2247" font-size="30" textLength="31" lengthAdjust="spacingAndGlyphs">A0</text>
<text x="1420" y="2240" font-size="22" textLength="64" lengthAdjust="spacingAndGlyphs">SHEET:</text>
<text x="1514" y="2247" font-size="30" textLength="42" lengthAdjust="spacingAndGlyphs">1/1</text>
</g>
</svg>
</body></html>
